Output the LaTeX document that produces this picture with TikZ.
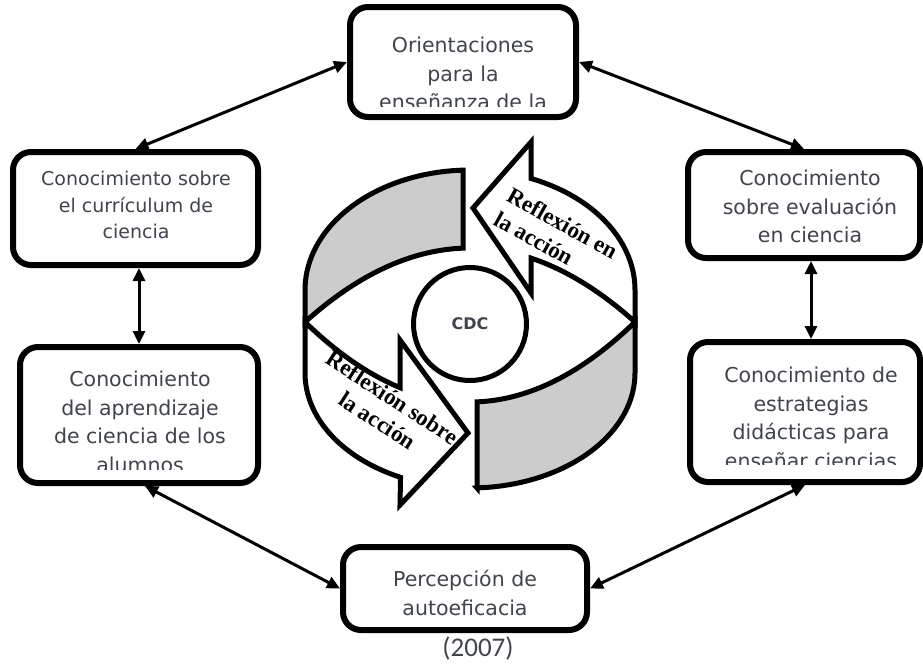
\documentclass[tikz,border=0pt]{standalone}
\usepackage{fontspec}
\setmainfont{DejaVu Sans}
\newfontfamily\yearfont{Carlito}
\newfontfamily\wordart{Liberation Serif}
\usetikzlibrary{arrows.meta}
\definecolor{txtgray}{RGB}{64,68,76}
\definecolor{bandgray}{RGB}{204,204,204}

\tikzset{
  kbox/.style={draw, line width=6pt, rounded corners=18pt, fill=white, inner sep=0pt},
  ktext/.style={text=txtgray, align=center, anchor=north, inner sep=0pt,
    font=\fontsize{20.5}{28.5}\selectfont},
  link/.style={{Triangle[length=13pt,width=12pt]}-{Triangle[length=13pt,width=12pt]}, line width=3pt},
  band/.style={draw, line width=5pt, fill=white},
  wordart/.style={font=\wordart\bfseries\fontsize{23}{27}\selectfont, inner sep=0pt}
}

\begin{document}
\begin{tikzpicture}[x=1pt,y=-1pt,samples=40]
\useasboundingbox (0,0) rectangle (923,665);

% ring in the middle (outer rims are ellipses, the inner eye is two parabolas)
\filldraw[band, fill=bandgray] plot[domain=180:92.4] ({470+165*cos(\x)},{290-120*sin(\x)})
  -- (463,248) -- plot[domain=463:305] (\x,{322-74*(1-((\x-470)/165)^2)}) -- cycle;
\filldraw[band] plot[domain=635:531] (\x,{322-74*(1-((\x-470)/165)^2)})
  -- (531,293) -- (473,208) -- (531,142)
  -- plot[domain=68.3:0] ({470+165*cos(\x)},{290-120*sin(\x)}) -- cycle;
\filldraw[band] plot[domain=305:400] (\x,{322+80*(1-((\x-470)/165)^2)})
  -- (400,340) -- (468,433) -- (400,505)
  -- plot[domain=245.1:180] ({470+165*cos(\x)},{373-115*sin(\x)}) -- cycle;
\filldraw[band, fill=bandgray] plot[domain=635:477] (\x,{322+80*(1-((\x-470)/165)^2)})
  -- (477,488) -- plot[domain=272.4:360] ({470+165*cos(\x)},{373-115*sin(\x)}) -- cycle;

\node[circle, draw, line width=5pt, fill=white, minimum size=113pt, inner sep=0pt,
  text=txtgray, font=\bfseries\fontsize{16}{18}\selectfont] (cdc) at (470,324) {CDC};

% labels on the arrows
\node[wordart, align=left, rotate=-29] (refen) at (556,235) {Reflexión en\\la acción};
\node[wordart, align=center, rotate=-33] (refsobre) at (385,409) {Reflexión sobre\\la acción};

% boxes
\node[kbox, minimum width=226pt, minimum height=110pt] (orient) at (463,62) {};
\node[kbox, minimum width=245pt, minimum height=113pt] (curr) at (135.5,208.5) {};
\node[kbox, minimum width=238pt, minimum height=136pt] (learn) at (139,415) {};
\node[kbox, minimum width=232pt, minimum height=106pt] (evalu) at (804,205) {};
\node[kbox, minimum width=230pt, minimum height=140pt] (strat) at (805,412) {};
\node[kbox, minimum width=244pt, minimum height=83pt] (autoef) at (465,588.5) {};

\begin{scope}
  \clip (orient.north west) rectangle ([yshift=14pt]orient.south east);
  \node[ktext] (orient-t) at (463,37) {Orientaciones\\para la\\enseñanza de la};
\end{scope}
\node[ktext, font=\fontsize{19}{26.5}\selectfont] (curr-t) at (136,171)
  {Conocimiento sobre\\el currículum de\\ciencia};
\begin{scope}
  \clip (learn.north west) rectangle ([yshift=17pt]learn.south east);
  \node[ktext] (learn-t) at (140,371) {Conocimiento\\del aprendizaje\\de ciencia de los\\alumnos};
\end{scope}
\begin{scope}
  \clip (evalu.north west) rectangle ([yshift=19pt]evalu.south east);
  \node[ktext] (evalu-t) at (810,170) {Conocimiento\\sobre evaluación\\en ciencia};
\end{scope}
\begin{scope}
  \clip (strat.north west) rectangle ([yshift=21pt]strat.south east);
  \node[ktext] (strat-t) at (811,367) {Conocimiento de\\estrategias\\didácticas para\\enseñar ciencias};
\end{scope}
\node[ktext] (autoef-t) at (465,570) {Percepción de\\autoeficacia};

\node[text=txtgray, font=\yearfont\fontsize{27}{30}\selectfont] (year) at (478,648) {(2007)};

% connectors
\draw[link] (orient.west) -- (curr.north);
\draw[link] (orient.east) -- (evalu.north);
\draw[link] (learn.north |- curr.south) -- (learn.north);
\draw[link] ([xshift=7pt]evalu.south) -- ([xshift=6pt]strat.north);
\draw[link] ([xshift=6pt]learn.south) -- (autoef.west);
\draw[link] (strat.south) -- (autoef.east);
\end{tikzpicture}
\end{document}
